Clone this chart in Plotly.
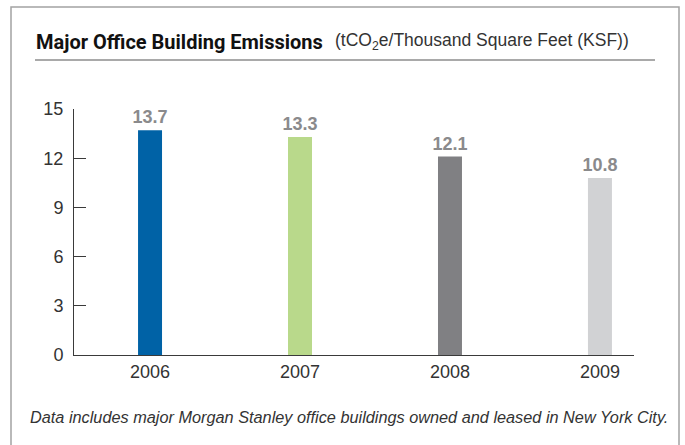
import plotly.graph_objects as go

years = ["2006", "2007", "2008", "2009"]
emissions = [13.7, 13.3, 12.1, 10.8]
bar_colors = ["#0062a6", "#b9d98b", "#808083", "#d1d2d4"]
y_ticks = [0, 3, 6, 9, 12, 15]

title_text = "Major Office Building Emissions"
subtitle_text = "(tCO<sub>2</sub>e/Thousand Square Feet (KSF))"
footnote_text = "Data includes major Morgan Stanley office buildings owned and leased in New York City."

W, H = 685, 445
L, R, T, B = 74, 51, 109, 90
PW, PH = W - L - R, H - T - B


def px_x(p):
    return (p - L) / PW


def px_y(p):
    return (H - B - p) / PH


fig = go.Figure()
fig.add_trace(go.Bar(
    x=years, y=emissions, width=0.16,
    marker=dict(color=bar_colors, line=dict(width=0)),
    text=[f"{v:.1f}" for v in emissions],
    textposition="outside",
    constraintext="none",
    textfont=dict(family="Liberation Sans", size=18, color="#8a8a8c", weight="bold"),
    cliponaxis=False,
    hoverinfo="skip",
))

fig.update_layout(
    width=W, height=H,
    margin=dict(l=L, r=R, t=T, b=B, autoexpand=False),
    paper_bgcolor="white", plot_bgcolor="white",
    showlegend=False,
    font=dict(family="Liberation Sans", color="#333333"),
    xaxis=dict(
        type="category", range=[-0.507, 3.227],
        showline=True, linecolor="#3a3a3a", linewidth=1,
        ticks="", showgrid=False, zeroline=False,
        tickfont=dict(size=18, color="#333333"),
    ),
    yaxis=dict(
        range=[0, 15], tickvals=y_ticks,
        showline=True, linecolor="#3a3a3a", linewidth=1,
        ticks="inside", ticklen=12, tickcolor="#3a3a3a", tickwidth=1,
        showgrid=False, zeroline=False,
        tickfont=dict(size=18, color="#333333"),
        ticklabelstandoff=6,
    ),
)

# outer frame
fig.add_shape(type="rect", xref="paper", yref="paper",
              x0=px_x(11), x1=px_x(679), y0=px_y(460), y1=px_y(7),
              line=dict(color="#a3a3a3", width=1.5), layer="below")
# title underline
fig.add_shape(type="line", xref="paper", yref="paper",
              x0=px_x(35), x1=px_x(655), y0=px_y(60), y1=px_y(60),
              line=dict(color="#8c8c8c", width=1.5))

fig.add_annotation(text=f"<b>{title_text}</b>", xref="paper", yref="paper",
                   x=px_x(34), y=px_y(42), xanchor="left", yanchor="middle",
                   showarrow=False,
                   font=dict(family="Roboto", size=20, color="#111111"))
fig.add_annotation(text=subtitle_text, xref="paper", yref="paper",
                   x=px_x(333), y=px_y(41), xanchor="left", yanchor="middle",
                   showarrow=False,
                   font=dict(family="Liberation Sans", size=17.5, color="#333333"))
fig.add_annotation(text=f"<i>{footnote_text}</i>", xref="paper", yref="paper",
                   x=px_x(28), y=px_y(417), xanchor="left", yanchor="middle",
                   showarrow=False,
                   font=dict(family="Liberation Sans", size=16.3, color="#333333"))

fig.write_html("out.html", config={"displayModeBar": False},
               post_script="document.body.style.margin='0';")
